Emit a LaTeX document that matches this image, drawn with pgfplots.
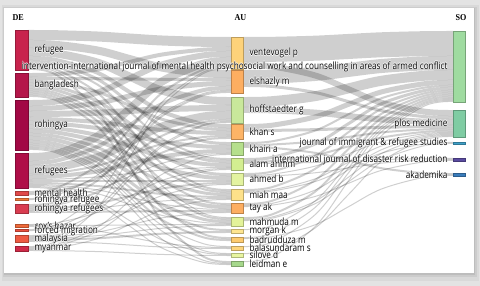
\documentclass[border=0pt]{standalone}
\usepackage{pgfplots}
\pgfplotsset{compat=1.18}
\usepackage{fontspec}
\setmainfont{Open Sans}[FakeStretch=0.82]
\newfontfamily\hdr{Liberation Serif}[FakeStretch=0.9]
\definecolor{lbl}{HTML}{4A4A4A}
% DE colours
\definecolor{d1}{HTML}{C8234D}\definecolor{d2}{HTML}{B4164A}\definecolor{d3}{HTML}{A20845}
\definecolor{d4}{HTML}{AF0E48}\definecolor{d5}{HTML}{E04A4A}\definecolor{d6}{HTML}{F07A3A}
\definecolor{d7}{HTML}{D93C50}\definecolor{d8}{HTML}{F06A3A}\definecolor{d9}{HTML}{E8503F}
\definecolor{d10}{HTML}{EE5A42}\definecolor{d11}{HTML}{D02A48}
% AU colours
\definecolor{a1}{HTML}{FDD27A}\definecolor{a2}{HTML}{FDAE61}\definecolor{a3}{HTML}{C9E89B}
\definecolor{a4}{HTML}{FDB466}\definecolor{a5}{HTML}{B5DF8C}\definecolor{a6}{HTML}{D3EE91}
\definecolor{a7}{HTML}{E3F3A0}\definecolor{a8}{HTML}{FDE18A}\definecolor{a9}{HTML}{FDAE61}
\definecolor{a10}{HTML}{E3F39A}\definecolor{a11}{HTML}{FEE590}\definecolor{a12}{HTML}{FDCB70}
\definecolor{a13}{HTML}{FDD57D}\definecolor{a14}{HTML}{E8F5A0}\definecolor{a15}{HTML}{A6D88C}
% SO colours
\definecolor{s1}{HTML}{9FDBA0}\definecolor{s2}{HTML}{7FCCA3}\definecolor{s3}{HTML}{3FA0C8}
\definecolor{s4}{HTML}{5A4BA0}\definecolor{s5}{HTML}{3A7CBB}

\newcommand\lk[5]{%
\pgfmathsetmacro\LL{#3-#1}\pgfmathsetmacro\DD{#4-#2}%
\pgfmathsetmacro\xa{#1+0.136*\LL}\pgfmathsetmacro\ya{#2+0.028*\DD}%
\pgfmathsetmacro\xb{#1+0.342*\LL}\pgfmathsetmacro\yb{#2+0.216*\DD}%
\pgfmathsetmacro\xc{#1+0.5*\LL}\pgfmathsetmacro\yc{#2+0.5*\DD}%
\pgfmathsetmacro\xd{#1+0.658*\LL}\pgfmathsetmacro\yd{#2+0.784*\DD}%
\pgfmathsetmacro\xe{#1+0.864*\LL}\pgfmathsetmacro\ye{#2+0.972*\DD}%
\edef\tmp{\noexpand\addplot[lk,line width=#5pt] coordinates {(#1,#2) (\xa,\ya) (\xb,\yb) (\xc,\yc) (\xd,\yd) (\xe,\ye) (#3,#4)};}\tmp}
\newcommand\da[3]{\lk{28}{#1}{231}{#2}{#3}}
\newcommand\ab[3]{\lk{243}{#1}{453}{#2}{#3}}
\newcommand\rect[5]{\addplot[fill=#1,draw=#1!75!black,line width=0.5pt,forget plot] coordinates {(#2,#4) (#3,#4) (#3,#5) (#2,#5)} -- cycle;}
\newcommand\bx[5]{\addplot[fill=#1,draw=none,forget plot] coordinates {(#2,#4) (#3,#4) (#3,#5) (#2,#5)} -- cycle;}
% label with white halo
\newcommand\lab[4]{%
\node[anchor=#1,text=white,xshift=0.45pt] at (axis cs:#2,#3) {#4};
\node[anchor=#1,text=white,xshift=-0.45pt] at (axis cs:#2,#3) {#4};
\node[anchor=#1,text=white,yshift=0.45pt] at (axis cs:#2,#3) {#4};
\node[anchor=#1,text=white,yshift=-0.45pt] at (axis cs:#2,#3) {#4};
\node[anchor=#1] at (axis cs:#2,#3) {#4};}

\begin{document}
\begin{tikzpicture}
\begin{axis}[x=1pt,y=1pt,y dir=reverse,xmin=0,xmax=480,ymin=0,ymax=286,
  hide axis,clip=false,enlargelimits=false,
  lk/.style={draw=black,draw opacity=0.19,smooth,tension=0.55,no markers,forget plot},
  every node/.style={font=\fontsize{7.3}{8}\selectfont,text=lbl,inner sep=0pt}]
% background card
\bx{gray!22}{0}{480}{0}{286}
\bx{gray!30}{2}{479}{5}{281}
\bx{gray!40}{3}{477}{7}{277}
\bx{gray!52}{4}{475}{8}{275}
\bx{white}{4}{474}{8}{273}
% DE -> AU links
\da{35}{42}{10}\da{44}{74}{8}\da{52}{101}{8}\da{58}{126}{4}\da{61.5}{143.5}{3}\da{64}{159}{2}\da{66}{190}{2}\da{67.5}{217.5}{1}\da{69}{262}{2}
\da{75}{49}{4}\da{78.5}{79.5}{3}\da{81.5}{129.5}{3}\da{84.5}{161.5}{3}\da{87.5}{174.5}{3}\da{90}{192}{2}\da{92}{204}{2}\da{94}{219}{2}\da{96}{238}{2}
\da{103}{54}{6}\da{108.5}{83.5}{5}\da{114}{108}{6}\da{119}{133}{4}\da{123}{147}{4}\da{127}{165}{4}\da{131}{178}{4}\da{134.5}{194.5}{3}\da{138}{207}{4}\da{141.5}{221.5}{3}\da{144}{230}{2}\da{146}{240}{2}\da{147.5}{246.5}{1}\da{148.5}{253.5}{1}\da{149.5}{263.5}{1}
\da{157}{61}{8}\da{163}{88}{4}\da{169}{115}{8}\da{174}{136}{2}\da{177}{151}{4}\da{179.5}{167.5}{1}\da{181}{181}{2}\da{183}{197}{2}\da{184.5}{209.5}{1}\da{185.5}{223.5}{1}\da{186.5}{254.5}{1}\da{187.5}{264.5}{1}
\da{192}{66}{2}\da{194}{120}{2}
\da{198.5}{90.5}{1}\da{199.5}{153.5}{1}
\da{205}{92}{2}\da{207}{138}{2}\da{209}{183}{2}\da{210.5}{198.5}{1}\da{212}{211}{2}
\da{224.5}{168.5}{1}\da{225.5}{224.5}{1}\da{226.5}{247.5}{1}
\da{229.5}{67.5}{1}\da{230.5}{121.5}{1}
\da{235.5}{122.5}{1}\da{236.5}{184.5}{1}\da{237.5}{212.5}{1}\da{238.5}{225.5}{1}\da{240}{232}{2}\da{241.5}{248.5}{1}
\da{246.5}{68.5}{1}\da{247.5}{154.5}{1}\da{248.5}{169.5}{1}\da{249.5}{199.5}{1}\da{250.5}{255.5}{1}
% AU -> SO links
\ab{49.5}{43.5}{25}\ab{65}{113}{6}\ab{77}{63}{14}\ab{85.5}{117.5}{3}\ab{102}{75}{10}\ab{110}{122}{6}
\ab{126.5}{82.5}{5}\ab{130.5}{126.5}{3}\ab{143}{86}{2}\ab{145}{129}{2}\ab{147}{174}{2}
\ab{159.5}{88.5}{3}\ab{162}{131}{2}\ab{163.5}{158.5}{1}\ab{174}{91}{2}\ab{175.5}{132.5}{1}\ab{176.5}{159.5}{1}
\ab{190}{93}{2}\ab{191.5}{133.5}{1}\ab{192.5}{142.5}{1}\ab{204}{95}{2}\ab{205.5}{134.5}{1}\ab{206.5}{160.5}{1}
\ab{218}{97}{2}\ab{219.5}{135.5}{1}\ab{220.5}{143.5}{1}\ab{229.5}{98.5}{1}\ab{237.5}{99.5}{1}\ab{238.5}{175.5}{1}
\ab{246.5}{100.5}{1}\ab{253.5}{136.5}{1}\ab{261.5}{101.5}{1}
% DE nodes
\rect{d1}{15}{28}{30}{70}\rect{d2}{15}{28}{73}{97}\rect{d3}{15}{28}{100}{150}\rect{d4}{15}{28}{153}{188}
\rect{d5}{15}{28}{191}{195}\rect{d6}{15}{28}{198}{200}\rect{d7}{15}{28}{204}{213}\rect{d8}{15}{28}{224}{227}
\rect{d9}{15}{28}{229}{231}\rect{d10}{15}{28}{235}{242}\rect{d11}{15}{28}{246}{251}
% AU nodes
\rect{a1}{231}{243}{37}{69}\rect{a2}{231}{243}{70}{93}\rect{a3}{231}{243}{97}{123}\rect{a4}{231}{243}{124}{139}
\rect{a5}{231}{243}{142}{155}\rect{a6}{231}{243}{158}{170}\rect{a7}{231}{243}{173}{185}\rect{a8}{231}{243}{189}{200}
\rect{a9}{231}{243}{203}{213}\rect{a10}{231}{243}{217}{226}\rect{a11}{231}{243}{229}{233}\rect{a12}{231}{243}{237}{242}
\rect{a13}{231}{243}{246}{250}\rect{a14}{231}{243}{253}{257}\rect{a15}{231}{243}{261}{266}
% SO nodes
\rect{s1}{453}{465}{31}{102}\rect{s2}{453}{465}{110}{137}\rect{s3}{453}{465}{142}{144}
\rect{s4}{453}{465}{158}{161}\rect{s5}{453}{465}{173}{176}
% headers
\node[anchor=base west,font=\hdr\bfseries\fontsize{9}{10}\selectfont,text=black] at (axis cs:9,20.5) {DE};
\node[anchor=base west,font=\hdr\bfseries\fontsize{9}{10}\selectfont,text=black] at (axis cs:231,20.5) {AU};
\node[anchor=base west,font=\hdr\bfseries\fontsize{9}{10}\selectfont,text=black] at (axis cs:452,20.5) {SO};
% DE labels
\lab{west}{31}{50}{refugee}
\lab{west}{31}{85}{bangladesh}
\lab{west}{31}{125}{rohingya}
\lab{west}{31}{170.5}{refugees}
\lab{west}{31}{193}{mental health}
\lab{west}{31}{200}{rohingya refugee}
\lab{west}{31}{209}{rohingya refugees}
\lab{west}{31}{225.5}{cox's bazar}
\lab{west}{31}{231}{forced migration}
\lab{west}{31}{239}{malaysia}
\lab{west}{31}{248.5}{myanmar}
% AU labels
\lab{west}{246}{53}{ventevogel p}
\lab{west}{246}{81.5}{elshazly m}
\lab{west}{246}{110}{hoffstaedter g}
\lab{west}{246}{131.5}{khan s}
\lab{west}{246}{148.5}{khairi a}
\lab{west}{246}{164}{alam anmm}
\lab{west}{246}{179}{ahmed b}
\lab{west}{246}{194.5}{miah maa}
\lab{west}{246}{208}{tay ak}
\lab{west}{246}{221.5}{mahmuda m}
\lab{west}{246}{231}{morgan k}
\lab{west}{246}{239.5}{badrudduza m}
\lab{west}{246}{248}{balasundaram s}
\lab{west}{246}{255}{silove d}
\lab{west}{246}{263.5}{leidman e}
% SO labels
\lab{east}{451}{66.5}{intervention-international journal of mental health psychosocial work and counselling in areas of armed conflict}
\lab{east}{451}{123.5}{plos medicine}
\lab{east}{451}{143}{journal of immigrant \& refugee studies}
\lab{east}{451}{159.5}{international journal of disaster risk reduction}
\lab{east}{451}{174.5}{akademika}
\end{axis}
\pgfresetboundingbox
\path (0,0) rectangle (480pt,286pt);
\end{tikzpicture}
\end{document}
